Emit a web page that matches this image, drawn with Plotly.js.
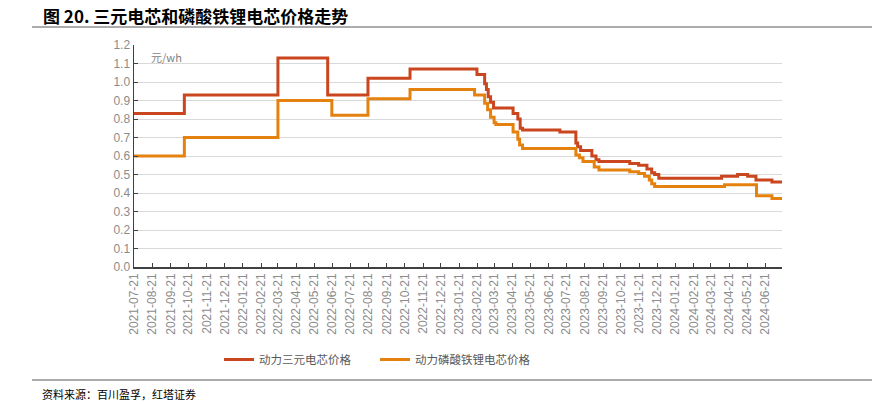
<!DOCTYPE html>
<html>
<head>
<meta charset="utf-8">
<script src="https://cdn.plot.ly/plotly-3.0.1.min.js"></script>
<style>html,body{margin:0;padding:0;background:#fff;}#chart{width:881px;height:404px;}</style>
</head>
<body>
<div id="chart"></div>
<script>
// Series names
const seriesNames = ["动力三元电芯价格", "动力磷酸铁锂电芯价格"];

// 动力三元电芯价格 (元/wh), step changes
const ternaryDates = ["2021-07-21","2021-10-14","2022-03-21","2022-06-13","2022-08-20","2022-10-30",
  "2023-02-20","2023-03-05","2023-03-08","2023-03-11","2023-03-15","2023-03-20","2023-04-22","2023-04-30",
  "2023-05-04","2023-05-08","2023-07-10","2023-08-06","2023-08-09","2023-08-14","2023-09-02","2023-09-09",
  "2023-09-14","2023-11-05","2023-11-20","2023-12-04","2023-12-12","2023-12-17","2023-12-24","2024-04-08",
  "2024-05-05","2024-05-22","2024-06-05","2024-07-02","2024-07-19"];
const ternaryValues = [0.83,0.93,1.13,0.93,1.02,1.07,
  1.04,0.99,0.96,0.92,0.89,0.86,0.83,0.80,
  0.75,0.74,0.73,0.67,0.65,0.63,0.60,0.58,
  0.57,0.56,0.55,0.53,0.51,0.50,0.48,0.49,
  0.50,0.49,0.47,0.46,0.46];

// 动力磷酸铁锂电芯价格 (元/wh), step changes
const lfpDates = ["2021-07-21","2021-10-14","2022-03-21","2022-06-20","2022-08-20","2022-10-30",
  "2023-02-16","2023-03-05","2023-03-10","2023-03-15","2023-03-21","2023-03-24","2023-04-22","2023-04-30",
  "2023-05-03","2023-05-08","2023-08-06","2023-08-12","2023-08-18","2023-09-06","2023-09-14","2023-11-05",
  "2023-11-20","2023-11-30","2023-12-08","2023-12-12","2023-12-17","2024-04-13","2024-06-06","2024-07-02",
  "2024-07-19"];
const lfpValues = [0.60,0.70,0.90,0.82,0.91,0.96,
  0.93,0.885,0.85,0.81,0.78,0.77,0.73,0.69,
  0.66,0.64,0.605,0.59,0.57,0.54,0.525,0.515,
  0.505,0.49,0.47,0.45,0.435,0.445,0.385,0.37,
  0.37];

// Tick labels
const xTickDates = ["2021-07-21","2021-08-21","2021-09-21","2021-10-21","2021-11-21","2021-12-21",
  "2022-01-21","2022-02-21","2022-03-21","2022-04-21","2022-05-21","2022-06-21","2022-07-21","2022-08-21",
  "2022-09-21","2022-10-21","2022-11-21","2022-12-21","2023-01-21","2023-02-21","2023-03-21","2023-04-21",
  "2023-05-21","2023-06-21","2023-07-21","2023-08-21","2023-09-21","2023-10-21","2023-11-21","2023-12-21",
  "2024-01-21","2024-02-21","2024-03-21","2024-04-21","2024-05-21","2024-06-21"];
const yTickVals = [0,0.1,0.2,0.3,0.4,0.5,0.6,0.7,0.8,0.9,1.0,1.1,1.2];

const titleText = "图 20. 三元电芯和磷酸铁锂电芯价格走势";
const unitText = "元/wh";
const sourceText = "资料来源：百川盈孚，红塔证券";

const cjk = '"Noto Sans CJK SC", "Liberation Sans", sans-serif';
const num = '"Liberation Sans", Arial, sans-serif';

// plot area in pixels: x 134..782, y 45..267
const L = 134, R = 782, T = 45, B = 267;
const px = x => (x - L) / (R - L);
const py = y => (B - y) / (B - T);

const traces = [
  {x: ternaryDates, y: ternaryValues, name: seriesNames[0], type: 'scatter', mode: 'lines',
   line: {color: '#C9461F', width: 3, shape: 'hv'}},
  {x: lfpDates, y: lfpValues, name: seriesNames[1], type: 'scatter', mode: 'lines',
   line: {color: '#E5810F', width: 3, shape: 'hv'}}
];

const layout = {
  width: 881, height: 404,
  margin: {l: L, r: 881 - R, t: T, b: 404 - B},
  paper_bgcolor: '#ffffff', plot_bgcolor: '#ffffff',
  showlegend: true,
  legend: {orientation: 'h', x: px(219), xanchor: 'left', y: py(345), yanchor: 'top',
    font: {family: cjk, size: 11.5, color: '#595959'}, entrywidth: 111, entrywidthmode: 'pixels',
    itemwidth: 30, tracegroupgap: 0, bgcolor: 'rgba(0,0,0,0)'},
  xaxis: {
    type: 'date', range: ['2021-07-21', '2024-07-19'],
    tickmode: 'array', tickvals: xTickDates, ticktext: xTickDates,
    tickangle: -90, tickfont: {family: num, size: 12, color: '#8c8c8c'},
    ticks: 'inside', ticklen: 4, tickcolor: '#404040', tickwidth: 1,
    showline: true, linecolor: '#404040', linewidth: 1.5,
    showgrid: false, zeroline: false, fixedrange: true
  },
  yaxis: {
    range: [0, 1.2], tickmode: 'array', tickvals: yTickVals,
    tickformat: '.1f', tickfont: {family: num, size: 12, color: '#8c8c8c'},
    ticks: 'inside', ticklen: 4, tickcolor: '#404040', tickwidth: 1,
    showline: true, linecolor: '#404040', linewidth: 1.5,
    showgrid: true, gridcolor: '#d9d9d9', gridwidth: 1,
    zeroline: false, fixedrange: true
  },
  annotations: [
    {text: '<b>' + titleText + '</b>', xref: 'paper', yref: 'paper', x: px(41), y: py(15),
     xanchor: 'left', yanchor: 'middle', showarrow: false, font: {family: cjk, size: 17, color: '#000000'}},
    {text: unitText, xref: 'paper', yref: 'paper', x: px(149), y: py(57),
     xanchor: 'left', yanchor: 'middle', showarrow: false, font: {family: cjk, size: 11, color: '#7f7f7f'}},
    {text: sourceText, xref: 'paper', yref: 'paper', x: px(40), y: py(394),
     xanchor: 'left', yanchor: 'middle', showarrow: false, font: {family: cjk, size: 11, color: '#000000'}}
  ],
  shapes: [
    {type: 'line', xref: 'paper', yref: 'paper', x0: px(32), x1: px(872), y0: py(27), y1: py(27),
     line: {color: '#595959', width: 1}},
    {type: 'line', xref: 'paper', yref: 'paper', x0: px(32), x1: px(872), y0: py(380), y1: py(380),
     line: {color: '#595959', width: 1}}
  ]
};

Plotly.newPlot('chart', traces, layout, {displayModeBar: false, staticPlot: true});
</script>
</body>
</html>
